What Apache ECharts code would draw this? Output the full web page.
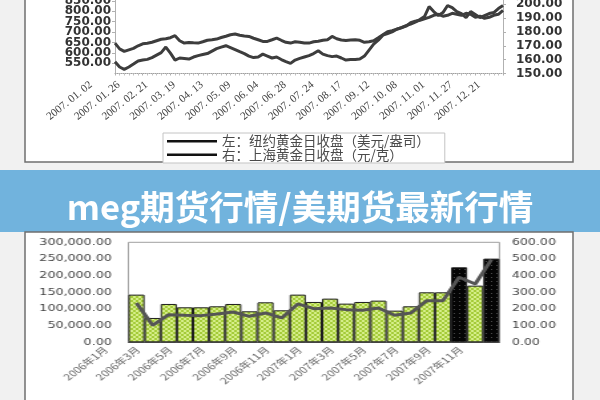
<!DOCTYPE html>
<html>
<head>
<meta charset="utf-8">
<script src="https://cdn.jsdelivr.net/npm/echarts@6.0.0/dist/echarts.min.js"></script>
<style>
html,body{margin:0;padding:0;width:600px;height:400px;overflow:hidden;background:#f1f1f1}
#a{position:absolute;left:0;top:0;width:600px;height:400px}
#b{position:absolute;left:0;top:232px;width:451px;height:168px;transform:scaleX(1.3304);transform-origin:0 0}
</style>
</head>
<body>
<div id="a"></div>
<div id="b"></div>
<script>
// ---------- top chart data (2007, sampled every 3 trading days) ----------
const topTickLabels = ['2007. 01. 02','2007. 01. 26','2007. 02. 21','2007. 03. 19','2007. 04. 13','2007. 05. 09','2007. 06. 04','2007. 06. 28','2007. 07. 24','2007. 08. 17','2007. 09. 12','2007. 10. 08','2007. 11. 01','2007. 11. 27','2007. 12. 21'];
const nyGoldName = '左：纽约黄金日收盘（美元/盎司）';
const shGoldName = '右：上海黄金日收盘（元/克）';
const nyGold = [646.6,618.9,606.8,614.1,621.4,633.5,643.2,645.6,650.5,657.8,665,667.5,672.3,682,657.8,646.6,649.5,648,646.6,652.9,
  660.2,662.6,666,673.3,679.6,686.9,690.3,684.5,681.1,678.6,669.9,662.6,654.4,654.4,662.6,670.9,660.2,650.5,646.6,652.9,
  650.5,646.6,646.6,652.9,655.3,660.2,662.6,678.6,667.5,661.2,659.2,661.2,662.6,660.2,650.5,652.9,657.8,672.3,686.9,701.4,
  706.3,713.6,720.9,730.6,737.8,747.6,759.7,774.3,822.8,798.5,779.1,793.7,827.6,817.9,798.5,788.8,769.4,798.5,784,769.4,
  779.1,788.8,793.7,813.1,827.6];
const shGold = [158.5,154.7,153.0,154.7,156.8,159.0,159.7,160.2,161.5,163.3,165.1,169.1,164.7,159.7,161.2,160.8,160.4,161.9,162.9,163.7,
  164.4,166.2,168.0,169.1,170.1,168.7,167.3,165.8,164.4,162.6,161.5,161.9,164.0,162.6,161.2,161.9,160.1,158.6,157.3,159.7,
  160.9,161.9,162.9,164.4,166.5,164.0,162.9,162.2,162.6,161.2,159.7,160.1,160.2,160.4,162.6,166.9,171.2,174.1,177.7,178.9,
  180.1,182.0,183.1,184.2,186.7,187.8,188.5,189.6,190.6,192.1,192.8,191.4,192.1,193.5,192.8,192.1,193.5,192.8,190.6,191.4,
  189.9,190.6,192.1,192.8,195.7];

// ---------- bottom chart data ----------
const months = ['2006年1月','2006年2月','2006年3月','2006年4月','2006年5月','2006年6月','2006年7月','2006年8月','2006年9月','2006年10月','2006年11月','2006年12月',
  '2007年1月','2007年2月','2007年3月','2007年4月','2007年5月','2007年6月','2007年7月','2007年8月','2007年9月','2007年10月','2007年11月'];
const volume = [143000,73000,115000,105000,105000,108000,115000,93000,120000,96000,143000,121000,131000,116000,121000,125000,95000,108000,150000,150000,225000,170000,251000];
const price = [236,102,166,162,160,170,182,156,176,146,230,202,206,196,192,206,162,176,250,250,390,350,496];

// ---------- styles ----------
const darkBars = [20, 22];
function makePattern(base, dot) {
  const c = document.createElement('canvas');
  c.width = 4; c.height = 4;
  const g = c.getContext('2d');
  g.fillStyle = base; g.fillRect(0, 0, 4, 4);
  g.fillStyle = dot; g.fillRect(0, 0, 2, 2); g.fillRect(2, 2, 2, 2);
  return { image: c, repeat: 'repeat' };
}
function makeDots(base, dot) {
  const c = document.createElement('canvas');
  c.width = 4; c.height = 4;
  const g = c.getContext('2d');
  g.fillStyle = base; g.fillRect(0, 0, 4, 4);
  g.fillStyle = dot; g.fillRect(1, 1, 1, 1);
  return { image: c, repeat: 'repeat' };
}
const greenPat = makePattern('#a4cb38', '#d6ee8a');
const blackPat = makeDots('#050505', '#4a4a4a');
const fmt2 = v => v.toFixed(2);
const fmtComma = v => v.toFixed(2).replace(/\B(?=(\d{3})+(?!\d))/g, ',');

// ---------- chart A: page, banner, top chart ----------
const chartA = echarts.init(document.getElementById('a'), null, { renderer: 'canvas' });
chartA.setOption({
  animation: false,
  graphic: [
    { type: 'rect', z: -10, shape: { x: 0, y: 0, width: 600, height: 400 }, style: { fill: '#f1f1f1' } },
    { type: 'rect', z: -9, shape: { x: 25, y: -5, width: 548, height: 167 }, style: { fill: '#ffffff', stroke: '#6f6f6f', lineWidth: 1.5 } },
    { type: 'rect', z: -9, shape: { x: 0, y: 170, width: 600, height: 62 }, style: { fill: '#71b3dd' } },
    { type: 'text', z: 5, x: 300, y: 207, style: { text: 'meg期货行情/美期货最新行情', fill: '#ffffff', font: 'bold 34.5px "Noto Sans CJK SC"', textAlign: 'center', textVerticalAlign: 'middle' } },
    { type: 'rect', z: -9, shape: { x: 25, y: 232, width: 548, height: 175 }, style: { fill: '#ffffff', stroke: '#6f6f6f', lineWidth: 1.5 } }
  ],
  legend: {
    orient: 'vertical', left: 163, top: 133,
    backgroundColor: '#ffffff', borderColor: '#c4c4c4', borderWidth: 1,
    padding: [1.5, 15, 1.5, 4], itemGap: 0, itemWidth: 50, itemHeight: 2.5,
    textStyle: { fontSize: 13.5, lineHeight: 12.5, color: '#4a4a4a', fontFamily: '"Noto Sans CJK SC"' },
    data: [
      { name: nyGoldName, icon: 'rect', itemStyle: { color: '#111' } },
      { name: shGoldName, icon: 'rect', itemStyle: { color: '#111' } }
    ]
  },
  grid: [
    { left: 115, top: -9.5, width: 388, height: 83, outerBoundsMode: 'none' },
    { left: 91, top: -9.5, width: 388, height: 83, outerBoundsMode: 'none' }
  ],
  xAxis: [
    { gridIndex: 0, type: 'value', min: 0, max: 84, interval: 6,
      axisLine: { lineStyle: { color: '#a0a0a0', type: 'dotted' } },
      axisTick: { show: true, length: 2, lineStyle: { color: '#b0b0b0' } },
      minorTick: { show: true, splitNumber: 6, length: 2, lineStyle: { color: '#c0c0c0' } },
      axisLabel: { show: false }, splitLine: { show: false } },
    { gridIndex: 1, type: 'value', min: 0, max: 84, interval: 6,
      axisLine: { show: false }, axisTick: { show: false }, splitLine: { show: false },
      axisLabel: { rotate: 39, margin: 10, fontFamily: '"Liberation Serif"', fontSize: 11, color: '#444',
        formatter: v => topTickLabels[Math.round(v / 6)] || '' } }
  ],
  yAxis: [
    { gridIndex: 0, type: 'value', position: 'left', min: 500, max: 900, interval: 50,
      axisLine: { show: true, lineStyle: { color: '#a8a8a8', type: 'dotted' } },
      axisTick: { show: true, length: 3, lineStyle: { color: '#b0b0b0' } },
      splitLine: { show: false },
      axisLabel: { margin: 4, formatter: fmt2, fontFamily: '"DejaVu Sans"', fontSize: 12, fontWeight: 'bold', color: '#333' } },
    { gridIndex: 0, type: 'value', position: 'right', min: 150, max: 210, interval: 10,
      axisLine: { show: true, lineStyle: { color: '#a8a8a8', type: 'dotted' } },
      axisTick: { show: true, length: 3, lineStyle: { color: '#b0b0b0' } },
      splitLine: { show: false },
      axisLabel: { margin: 13, formatter: fmt2, fontFamily: '"DejaVu Sans"', fontSize: 12, fontWeight: 'bold', color: '#333' } },
    { gridIndex: 1, type: 'value', show: false, min: 0, max: 1 }
  ],
  series: [
    { name: nyGoldName, type: 'line', xAxisIndex: 0, yAxisIndex: 0, symbol: 'none',
      data: nyGold.map((v, i) => [i, v]), lineStyle: { color: '#3d3d3d', width: 3 }, itemStyle: { color: '#111' } },
    { name: shGoldName, type: 'line', xAxisIndex: 0, yAxisIndex: 1, symbol: 'none',
      data: shGold.map((v, i) => [i, v]), lineStyle: { color: '#3d3d3d', width: 3 }, itemStyle: { color: '#111' } }
  ]
});

// ---------- chart B: bottom bar + line chart (horizontally stretched like the source) ----------
const chartB = echarts.init(document.getElementById('b'), null, { renderer: 'canvas' });
chartB.setOption({
  animation: false,
  grid: [
    { left: 96.5, width: 278.9, top: 10.3, height: 100, show: true, borderColor: '#a0a0a0', borderWidth: 1, outerBoundsMode: 'none' },
    { left: 73.5, width: 278.9, top: 10.3, height: 100, outerBoundsMode: 'none' }
  ],
  xAxis: [
    { gridIndex: 0, type: 'category', data: months, axisLabel: { show: false }, axisTick: { show: false },
      axisLine: { lineStyle: { color: '#555' } } },
    { gridIndex: 1, type: 'category', data: months, axisLine: { show: false }, axisTick: { show: false },
      axisLabel: { interval: 1, rotate: 45, margin: 6, fontSize: 9, fontFamily: '"Noto Sans CJK SC"', color: '#666' } }
  ],
  yAxis: [
    { gridIndex: 0, type: 'value', min: 0, max: 300000, interval: 50000,
      axisLine: { show: false }, axisTick: { show: false }, splitLine: { show: false },
      axisLabel: { margin: 12.5, formatter: fmtComma, fontFamily: '"DejaVu Sans"', fontSize: 9.5, color: '#444' } },
    { gridIndex: 0, type: 'value', position: 'right', min: 0, max: 600, interval: 100,
      axisLine: { show: false }, axisTick: { show: false }, splitLine: { show: false },
      axisLabel: { margin: 9.3, formatter: fmt2, fontFamily: '"DejaVu Sans"', fontSize: 9.5, color: '#444' } },
    { gridIndex: 1, type: 'value', show: false, min: 0, max: 1 }
  ],
  series: [
    { type: 'bar', xAxisIndex: 0, yAxisIndex: 0, data: volume, barCategoryGap: '0%',
      itemStyle: { color: p => darkBars.includes(p.dataIndex) ? blackPat : greenPat, borderColor: '#1e1e1e', borderWidth: 1 } },
    { type: 'line', xAxisIndex: 0, yAxisIndex: 1, data: price, symbol: 'none',
      lineStyle: { color: '#555555', width: 3 } }
  ]
});
</script>
</body>
</html>
